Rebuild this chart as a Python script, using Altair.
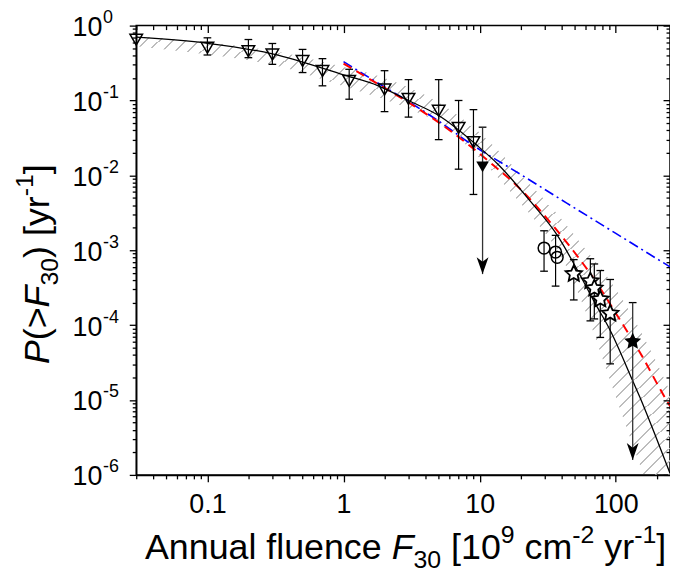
import math
import altair as alt
import pandas as pd

# ---------------- data ----------------
# open down-triangles with error bars
tri_x = [0.03, 0.1, 0.2, 0.3, 0.5, 0.7, 1.1, 2.0, 3.0, 5.0, 7.0, 9.0]
tri_y = [0.65, 0.506, 0.457, 0.412, 0.337, 0.248, 0.183, 0.14, 0.105, 0.073, 0.043, 0.0278]
tri_lo = [None, 0.405, 0.373, 0.304, 0.236, 0.157, 0.104, 0.071, 0.060, 0.030, 0.0121, 0.00556]
tri_hi = [None, 0.687, 0.652, 0.577, 0.481, 0.362, 0.261, 0.25, 0.19, 0.19, 0.10, 0.0755]

# filled down-triangle (upper limit with arrow)
lim_tri_x = [10.5]
lim_tri_y = [0.013]
lim_tri_hi = [0.044]
lim_tri_tip = [4.8e-4]

# open circles
circ_x = [29.7, 36.1, 37.1]
circ_y = [1.07e-3, 9.46e-4, 8.05e-4]
circ_lo = [5.25e-4, 3.32e-4, None]
circ_hi = [1.82e-3, 1.58e-3, None]

# open stars
star_x = [49.1, 65.0, 69.5, 76.9, 90.9]
star_y = [4.83e-4, 3.87e-4, 3.1e-4, 2.21e-4, 1.43e-4]
star_lo = [2.17e-4, 1.14e-4, 1.21e-4, 6.85e-5, 3.04e-5]
star_hi = [7.5e-4, 7.7e-4, 6.56e-4, 5.36e-4, 4.07e-4]

# filled star (upper limit with arrow)
lim_star_x = [133.0]
lim_star_y = [6.05e-5]
lim_star_hi = [2.0e-4]
lim_star_tip = [1.58e-6]

# solid black fit
fit_x = [0.03, 0.1, 0.3, 1.0, 1.8, 3.0, 5.0, 9.6, 13.5, 23.7, 37.0, 52.0, 70.0, 91.0, 135.0, 150.0, 200.0, 250.0]
fit_y = [0.70, 0.58, 0.42, 0.22, 0.157, 0.10, 0.063, 0.025, 0.0143, 4.45e-3, 1.6e-3, 5.5e-4, 2.0e-4, 8.5e-5, 1.7e-5, 1.1e-5, 3.0e-6, 1.05e-6]

# red dashed curve
red_x = [1.0, 1.8, 3.0, 5.8, 11.8, 20.0, 35.0, 49.0, 70.0, 101.0, 150.0, 228.0, 250.0]
red_y = [0.31, 0.165, 0.094, 0.042, 0.0151, 6.5e-3, 2.07e-3, 9.7e-4, 4.0e-4, 1.4e-4, 4.35e-5, 1.1e-5, 8.3e-6]

# blue dash-dot curve
blue_x = [1.0, 1.8, 3.0, 5.0, 8.6, 20.0, 43.9, 100.0, 250.0]
blue_y = [0.33, 0.17, 0.097, 0.053, 0.0264, 0.0103, 4.23e-3, 1.68e-3, 6.0e-4]

# hatched uncertainty band
band_x = [0.03, 0.1, 0.3, 1.0, 1.8, 3.0, 5.0, 10.0, 13.5, 20.0, 26.5, 40.0, 61.5, 90.0, 127.0, 160.0, 199.0, 250.0]
band_hi = [0.72, 0.60, 0.46, 0.28, 0.213, 0.15, 0.094, 0.037, 0.022, 0.0103, 6.0e-3, 2.6e-3, 9.7e-4, 4.0e-4, 1.5e-4, 7.0e-5, 3.2e-5, 1.3e-5]
band_lo = [0.53, 0.41, 0.30, 0.155, 0.11, 0.078, 0.05, 0.017, 9.5e-3, 4.2e-3, 2.3e-3, 8.0e-4, 1.35e-4, 1.9e-5, 3.2e-6, 1.0e-6, 3.3e-7, 1.0e-7]

# tick values and labels
x_major = [0.1, 1, 10, 100]
x_minor = [v for v in (float(f"{k}e{e}") for e in (-2, -1, 0, 1, 2) for k in range(2, 10)) if 0.03 <= v <= 250]
y_major = [1e-6, 1e-5, 1e-4, 1e-3, 1e-2, 0.1, 1]
y_minor = [float(f"{k}e{e}") for e in range(-6, 0) for k in range(2, 10)]
y_label_vals = [1, 0.1, 0.01, 0.001, 1e-4, 1e-5, 1e-6]
y_label_base = ["10"] * 7
y_label_exp = ["0", "-1", "-2", "-3", "-4", "-5", "-6"]

# axis titles as (text, style, size, baseline shift)
xtitle_parts = [("Annual fluence ", "normal", 36, 0), ("F", "italic", 36, 0), ("30", "normal", 25, 8.5),
                (" [10", "normal", 36, 0), ("9", "normal", 25, -16), (" cm", "normal", 36, 0),
                ("-2", "normal", 25, -16), (" yr", "normal", 36, 0), ("-1", "normal", 25, -16),
                ("]", "normal", 36, 0)]
ytitle_parts = [("P", "italic", 36, 0), ("(>", "normal", 36, 0), ("F", "italic", 36, 0),
                ("30", "normal", 25, 9.5), (") [yr", "normal", 36, 0), ("-1", "normal", 25, -16),
                ("]", "normal", 36, 0)]

# ---------------- layout / style ----------------
FONT = "Liberation Sans"
W, H = 537, 452
PAD = {"left": 129, "top": 16, "right": 0, "bottom": 100}
XT_CENTER, XT_BASE = 271, 537
YT_CENTER, YT_BASE = 240, -88

CW = {' ': 278, '(': 333, ')': 333, '-': 333, '>': 584, '[': 278, ']': 278,
      'A': 667, 'F': 611, 'P': 667, 'a': 556, 'c': 500, 'e': 556, 'f': 278, 'l': 222,
      'm': 833, 'n': 556, 'r': 333, 'u': 556, 'y': 500}
for d in "0123456789":
    CW[d] = 556


def tw(s, size):
    return sum(CW.get(c, 556) for c in s) * size / 1000.0


XS = alt.Scale(type="log", domain=[0.03, 250], nice=False)
YS = alt.Scale(type="log", domain=[1e-6, 1], nice=False)

base_ax = dict(title=None, grid=False, tickColor="black", tickWidth=1.3, domainColor="black",
               domainWidth=1.5, zindex=1, labelFlush=False, labelOverlap=False)
ax_bottom = alt.Axis(orient="bottom", values=x_major, tickSize=7, labels=True, labelFont=FONT,
                     labelFontSize=27, labelColor="black", labelPadding=10, format="~g",
                     domain=True, **base_ax)
ax_bottom_minor = alt.Axis(orient="bottom", values=x_minor, tickSize=4, labels=False, domain=False, **base_ax)
ax_top = alt.Axis(orient="top", values=x_major, tickSize=7, offset=-7, labels=False, domain=False, **base_ax)
ax_top_minor = alt.Axis(orient="top", values=x_minor, tickSize=4, offset=-4, labels=False, domain=False, **base_ax)
ax_left = alt.Axis(orient="left", values=y_major, tickSize=7, labels=False, domain=True, **base_ax)
ax_left_minor = alt.Axis(orient="left", values=y_minor, tickSize=4, labels=False, domain=False, **base_ax)
ax_right = alt.Axis(orient="right", values=y_major, tickSize=7, offset=-7, labels=False, domain=False, **base_ax)
ax_right_minor = alt.Axis(orient="right", values=y_minor, tickSize=4, offset=-4, labels=False, domain=False, **base_ax)


def X(field, axis=None):
    return alt.X(field, type="quantitative", scale=XS, axis=axis)


def Y(field, axis=None):
    return alt.Y(field, type="quantitative", scale=YS, axis=axis)


# hatch made with a striped linear gradient
N_STRIPES, DUTY, HGRAY = 80, 0.15, "#bdbdbd"
stops = []
for i in range(N_STRIPES):
    a = round(i / N_STRIPES, 6)
    b = round((i + DUTY) / N_STRIPES, 6)
    c = round((i + 1) / N_STRIPES, 6)
    stops += [{"offset": a, "color": HGRAY}, {"offset": b, "color": HGRAY},
              {"offset": b, "color": "rgba(255,255,255,0)"}, {"offset": c, "color": "rgba(255,255,255,0)"}]
HATCH = {"gradient": "linear", "x1": 0, "y1": 0, "x2": 1, "y2": 1, "stops": stops}

# star and arrow-head symbol paths
pts = []
for i in range(10):
    r = 1.0 if i % 2 == 0 else 0.48
    a = math.radians(-90 + 36 * i)
    pts.append(f"{r * math.cos(a):.3f},{r * math.sin(a):.3f}")
STAR = "M" + "L".join(pts) + "Z"
ARROW = "M0,0L-0.7,-2L0,-1.45L0.7,-2Z"

# ---------------- tables ----------------
band_df = pd.DataFrame({"x": band_x, "lo": band_lo, "hi": band_hi})
fit_df = pd.DataFrame({"x": fit_x, "y": fit_y})
red_df = pd.DataFrame({"x": red_x, "y": red_y})
blue_df = pd.DataFrame({"x": blue_x, "y": blue_y})
tri_df = pd.DataFrame({"x": tri_x, "y": tri_y})
circ_df = pd.DataFrame({"x": circ_x, "y": circ_y})
star_df = pd.DataFrame({"x": star_x, "y": star_y})
ltri_df = pd.DataFrame({"x": lim_tri_x, "y": lim_tri_y})
lstar_df = pd.DataFrame({"x": lim_star_x, "y": lim_star_y})
eb_df = pd.concat([
    pd.DataFrame({"x": tri_x, "lo": tri_lo, "hi": tri_hi}),
    pd.DataFrame({"x": circ_x, "lo": circ_lo, "hi": circ_hi}),
    pd.DataFrame({"x": star_x, "lo": star_lo, "hi": star_hi}),
]).dropna().reset_index(drop=True)
caps_df = pd.concat([
    eb_df[["x", "lo"]].rename(columns={"lo": "y"}),
    eb_df[["x", "hi"]].rename(columns={"hi": "y"}),
    pd.DataFrame({"x": lim_tri_x + lim_star_x, "y": lim_tri_hi + lim_star_hi}),
]).reset_index(drop=True)
arrow_df = pd.DataFrame({"x": lim_tri_x + lim_star_x, "top": lim_tri_hi + lim_star_hi,
                         "tip": lim_tri_tip + lim_star_tip})
ylab_df = pd.DataFrame({"v": y_label_vals, "b": y_label_base, "e": y_label_exp})

# ---------------- layers ----------------
layers = []
layers.append(alt.Chart(band_df).mark_area(fill=HATCH, clip=True, interpolate="monotone").encode(
    x=X("x", ax_bottom), y=Y("lo", ax_left), y2="hi"))
layers.append(alt.Chart(blue_df).mark_line(color="#0000ff", strokeWidth=1.6, strokeDash=[10, 4, 2, 4],
                                           clip=True, interpolate="monotone").encode(
    x=X("x", ax_top_minor), y=Y("y", ax_right_minor)))
layers.append(alt.Chart(red_df).mark_line(color="#ff0000", strokeWidth=2, strokeDash=[9, 6],
                                          clip=True, interpolate="monotone").encode(
    x=X("x", ax_top), y=Y("y", ax_right)))
layers.append(alt.Chart(fit_df).mark_line(color="black", strokeWidth=1.3, clip=True,
                                          interpolate="monotone").encode(
    x=X("x", ax_bottom_minor), y=Y("y", ax_left_minor)))
layers.append(alt.Chart(eb_df).mark_rule(color="black", strokeWidth=1.2).encode(
    x=X("x"), y=Y("lo"), y2="hi"))
layers.append(alt.Chart(caps_df).mark_point(shape="stroke", size=60, color="black", strokeWidth=1.3,
                                            opacity=1).encode(x=X("x"), y=Y("y")))
layers.append(alt.Chart(arrow_df).mark_rule(color="#333333", strokeWidth=1.3).encode(
    x=X("x"), y=Y("top"), y2="tip"))
layers.append(alt.Chart(arrow_df).mark_point(shape=ARROW, size=290, filled=True, color="black",
                                             opacity=1).encode(x=X("x"), y=Y("tip")))
layers.append(alt.Chart(tri_df).mark_point(shape="triangle-down", size=160, filled=False, color="black",
                                           strokeWidth=1.5, opacity=1).encode(x=X("x"), y=Y("y")))
layers.append(alt.Chart(ltri_df).mark_point(shape="triangle-down", size=160, filled=True, color="black",
                                            opacity=1).encode(x=X("x"), y=Y("y")))
layers.append(alt.Chart(circ_df).mark_point(shape="circle", size=140, filled=False, color="black",
                                            strokeWidth=1.5, opacity=1).encode(x=X("x"), y=Y("y")))
layers.append(alt.Chart(star_df).mark_point(shape=STAR, size=300, filled=True, fill="white", stroke="black",
                                            strokeWidth=1.8, opacity=1).encode(x=X("x"), y=Y("y")))
layers.append(alt.Chart(lstar_df).mark_point(shape=STAR, size=320, filled=True, color="black",
                                             opacity=1).encode(x=X("x"), y=Y("y")))

# y tick labels 10^n
layers.append(alt.Chart(ylab_df).mark_text(align="right", baseline="alphabetic", dy=10.5, font=FONT,
                                           fontSize=27, color="black").encode(
    x=alt.value(-34), y=Y("v"), text="b:N"))
layers.append(alt.Chart(ylab_df).mark_text(align="left", baseline="alphabetic", dy=-2.6, font=FONT,
                                           fontSize=18, color="black").encode(
    x=alt.value(-33.5), y=Y("v"), text="e:N"))


def piece(txt, style, size, x, y, angle=0):
    return alt.Chart(pd.DataFrame({"t": [txt]})).mark_text(
        align="left", baseline="alphabetic", font=FONT, fontSize=size, fontStyle=style,
        color="black", angle=angle).encode(text="t:N", x=alt.value(x), y=alt.value(y))


# x-axis title
total = sum(tw(t, s) for t, _, s, _ in xtitle_parts)
x0 = XT_CENTER - total / 2
cum = 0.0
for t, st, s, sh in xtitle_parts:
    lead = len(t) - len(t.lstrip(" "))
    layers.append(piece(t.strip(), st, s, x0 + cum + tw(t[:lead], s), XT_BASE + sh))
    cum += tw(t, s)

# y-axis title (rotated)
total = sum(tw(t, s) for t, _, s, _ in ytitle_parts)
y0 = YT_CENTER + total / 2
cum = 0.0
for t, st, s, sh in ytitle_parts:
    lead = len(t) - len(t.lstrip(" "))
    layers.append(piece(t.strip(), st, s, YT_BASE + sh, y0 - cum - tw(t[:lead], s), angle=270))
    cum += tw(t, s)

chart = alt.layer(*layers).resolve_axis(x="independent", y="independent").properties(
    width=W, height=H, padding=PAD, autosize=alt.AutoSizeParams(type="none"), background="white"
).configure_view(stroke="black", strokeWidth=1.5)

chart.save("out.html", embed_options={"renderer": "svg", "actions": False})
